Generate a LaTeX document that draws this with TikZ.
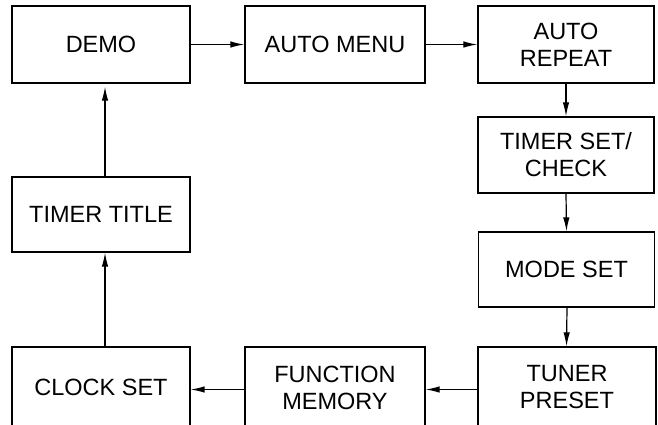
\documentclass[tikz,border=0pt]{standalone}
\usepackage{fontspec}
\setmainfont{Liberation Sans}
\usetikzlibrary{arrows.meta}
\begin{document}
\begin{tikzpicture}[x=1pt,y=-1pt,
  box/.style={draw, line width=1.3pt, minimum width=178pt, minimum height=77pt,
    align=center, inner sep=0pt, font=\fontsize{23.5}{27}\selectfont},
  arr/.style={line width=1.2pt, -{Latex[length=14pt,width=6.5pt]}}]
\clip (0,0) rectangle (658,425);
\node[box] (demo) at (101,44.5) {DEMO};
\node[box, minimum width=180pt] (automenu) at (335,44.5) {AUTO MENU};
\node[box, minimum width=176pt] (autorepeat) at (566,44.5) {AUTO\\REPEAT};
\node[box, minimum width=176pt, minimum height=76pt] (timerset) at (566,155) {TIMER SET/\\CHECK};
\node[box, minimum width=176pt, minimum height=75pt] (modeset) at (566.5,269.5) {MODE SET};
\node[box, minimum width=178pt, minimum height=81pt] (tuner) at (567,387.5) {TUNER\\PRESET};
\node[box, minimum width=180pt, minimum height=81pt] (function) at (335,387.5) {FUNCTION\\MEMORY};
\node[box, minimum height=81pt] (clock) at (101,387.5) {CLOCK SET};
\node[box, minimum height=75pt] (timertitle) at (101,214.5) {TIMER TITLE};
\draw[arr] (demo.east) -- (automenu.west);
\draw[arr] (automenu.east) -- (autorepeat.west);
\draw[arr] (autorepeat.south) -- (timerset.north);
\draw[arr] (timerset.south) -- (modeset.north);
\draw[arr] ([xshift=0.5pt]modeset.south) -- ([xshift=-0.5pt]tuner.north);
\draw[arr] ([yshift=-2pt]tuner.west) -- ([yshift=-2pt]function.east);
\draw[arr] ([yshift=-2pt]function.west) -- ([yshift=-2pt]clock.east);
\draw[arr] ([xshift=4pt]clock.north) -- ([xshift=4pt]timertitle.south);
\draw[arr, shorten >=3pt] ([xshift=4pt]timertitle.north) -- ([xshift=4pt]demo.south);
\end{tikzpicture}
\end{document}
